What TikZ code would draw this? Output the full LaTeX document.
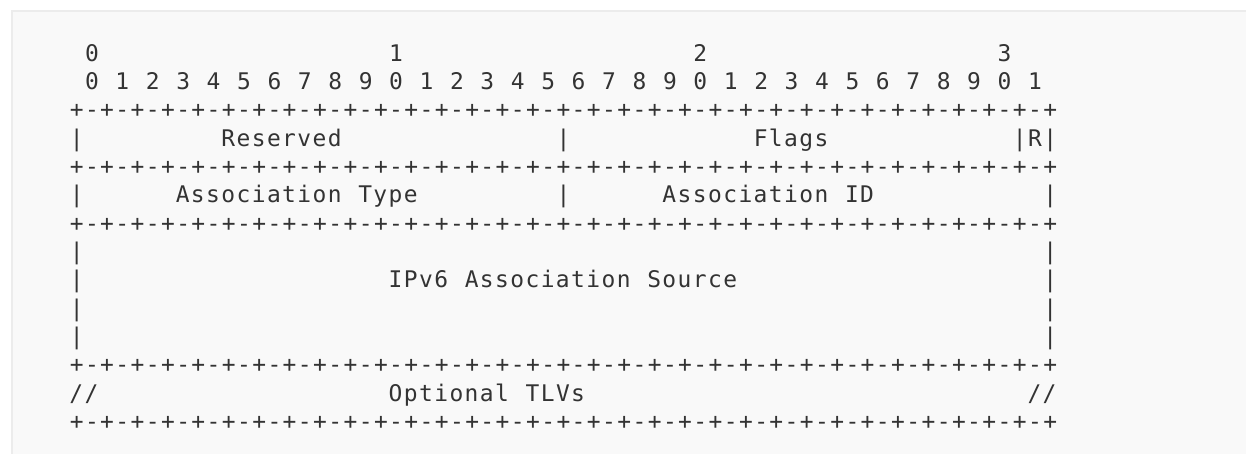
\documentclass[tikz,border=0pt]{standalone}
\usepackage{fontspec}
\newfontfamily\pktfont{DejaVu Sans Mono}
\newfontfamily\pktwide[LetterSpace=6.2]{DejaVu Sans Mono}
\definecolor{pktbg}{HTML}{F9F9F9}
\definecolor{pktrule}{HTML}{ECECEC}
\definecolor{pktink}{HTML}{333333}
\tikzset{
  bit/.style={anchor=base,inner sep=0pt,text=pktink,
    font=\pktfont\fontsize{22.9}{28}\selectfont},
  field/.style={bit,anchor=base west,
    font=\pktwide\fontsize{22.9}{28}\selectfont},
}
\begin{document}
\begin{tikzpicture}[x=15.21pt,y=28.34pt]
  \useasboundingbox (-76.7pt,-394pt) rectangle (1169.3pt,61pt);
  % pre block
  \fill[pktbg] (-65.7pt,-393pt) rectangle (1172pt,51pt);
  \draw[pktrule,line width=2pt] (-64.7pt,-393pt) -- (-64.7pt,50pt) -- (1172pt,50pt);

  % bit numbers
  \foreach \t [count=\i from 0] in {0,1,2,3}
    \node[bit] (tens-\i) at ({20*\i+1},0) {\t};
  \foreach \c in {0,...,31} {
    \pgfmathtruncatemacro\d{mod(\c,10)}
    \node[bit] (ones-\c) at ({2*\c+1},-1) {\d};
  }

  % rules
  \foreach \r in {2,4,6,11,13} {
    \foreach \c in {0,2,...,64}
      \node[bit] (plus-\r-\c) at (\c,-\r) {+};
    \foreach \c in {1,3,...,63}
      \node[bit] (dash-\r-\c) at (\c,-\r) {-};
  }

  % sides
  \foreach \r in {3,5,7,8,9,10} {
    \node[bit] (left-\r) at (0,-\r) {|};
    \node[bit] (right-\r) at (64,-\r) {|};
  }
  \node[bit] (mid-3) at (32,-3) {|};
  \node[bit] (mid-5) at (32,-5) {|};
  \node[bit] (rbar) at (62,-3) {|};

  % fields
  \node[field] (reserved) at (9.5,-3) {Reserved};
  \node[field] (flags) at (44.5,-3) {Flags};
  \node[bit] (rflag) at (63,-3) {R};
  \node[field] (atype) at (6.5,-5) {Association};
  \node[field] (atype2) at (18.5,-5) {Type};
  \node[field] (aid) at (38.5,-5) {Association};
  \node[field] (aid2) at (50.5,-5) {ID};
  \node[field] (src) at (20.5,-8) {IPv6};
  \node[field] (src2) at (25.5,-8) {Association};
  \node[field] (src3) at (37.5,-8) {Source};
  \node[field] (tlvl) at (-0.5,-12) {//};
  \node[field] (tlv) at (20.5,-12) {Optional};
  \node[field] (tlv2) at (29.5,-12) {TLVs};
  \node[field] (tlvr) at (62.5,-12) {//};
\end{tikzpicture}
\end{document}
